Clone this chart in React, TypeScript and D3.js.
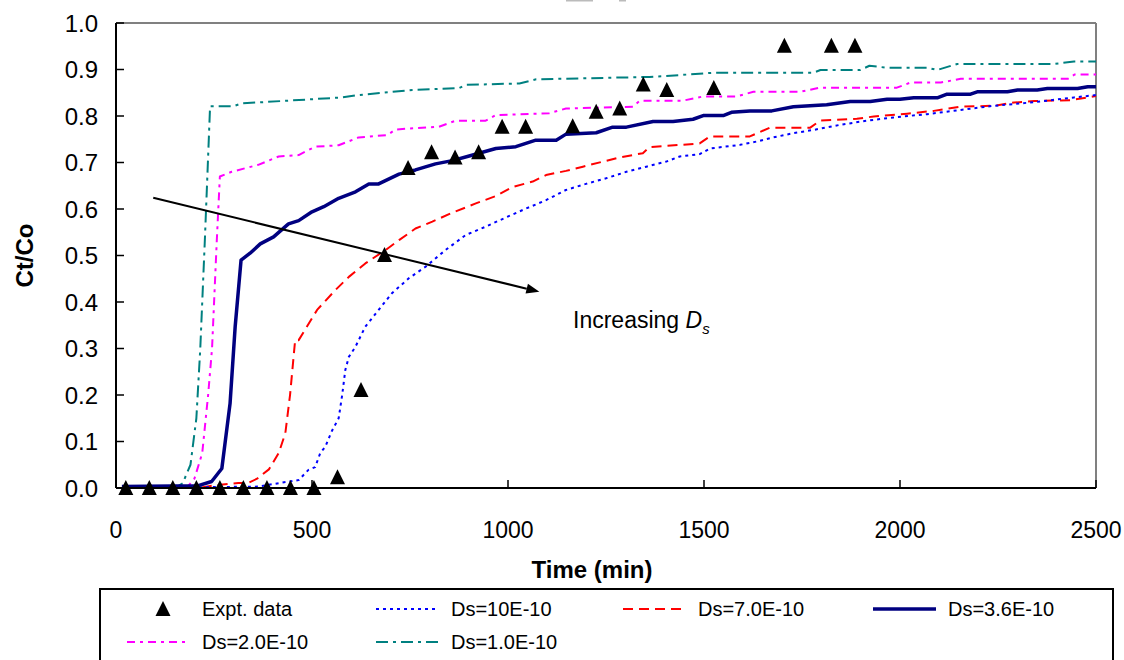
import React from "react";
import * as d3 from "d3";

// ---- data ----
const exptTimes = [25, 85, 145, 205, 265, 325, 385, 445, 505, 565, 625, 685, 745, 805, 865, 925, 985, 1045, 1165, 1225, 1285, 1345, 1405, 1525, 1705, 1825, 1885];
const exptValues = [0, 0, 0, 0, 0, 0, 0, 0, 0, 0.023, 0.211, 0.501, 0.688, 0.722, 0.711, 0.722, 0.777, 0.777, 0.778, 0.809, 0.816, 0.868, 0.856, 0.86, 0.951, 0.951, 0.951];

const ds10: [number, number][] = [[15, 0], [363, 0.003], [419, 0.011], [466, 0.017], [491, 0.039], [508, 0.045], [521, 0.075], [534, 0.089], [551, 0.123], [568, 0.15], [577, 0.2], [585, 0.254], [594, 0.282], [611, 0.304], [636, 0.347], [670, 0.383], [704, 0.419], [747, 0.451], [790, 0.476], [841, 0.512], [892, 0.544], [943, 0.562], [995, 0.582], [1046, 0.601], [1097, 0.619], [1148, 0.641], [1199, 0.654], [1250, 0.666], [1302, 0.68], [1353, 0.691], [1404, 0.702], [1438, 0.713], [1489, 0.718], [1515, 0.73], [1592, 0.738], [1634, 0.745], [1677, 0.754], [1728, 0.763], [1779, 0.77], [1847, 0.781], [1916, 0.79], [1984, 0.797], [2069, 0.804], [2155, 0.813], [2240, 0.822], [2308, 0.827], [2376, 0.833], [2444, 0.84], [2500, 0.845]];

const ds7: [number, number][] = [[15, 0], [210, 0], [244, 0.005], [312, 0.011], [338, 0.011], [360, 0.02], [390, 0.04], [415, 0.075], [432, 0.118], [444, 0.2], [457, 0.318], [466, 0.318], [513, 0.383], [560, 0.426], [594, 0.454], [636, 0.483], [688, 0.512], [722, 0.533], [764, 0.558], [807, 0.573], [858, 0.592], [918, 0.612], [969, 0.628], [1011, 0.647], [1063, 0.659], [1097, 0.673], [1148, 0.682], [1191, 0.691], [1285, 0.711], [1344, 0.72], [1361, 0.733], [1489, 0.741], [1515, 0.756], [1617, 0.756], [1668, 0.775], [1771, 0.775], [1796, 0.79], [1890, 0.794], [1933, 0.799], [2018, 0.805], [2086, 0.811], [2155, 0.82], [2240, 0.822], [2291, 0.829], [2342, 0.832], [2436, 0.834], [2500, 0.843]];

const ds36: [number, number][] = [[15, 0.003], [210, 0.005], [244, 0.014], [270, 0.042], [291, 0.182], [304, 0.347], [319, 0.49], [342, 0.505], [368, 0.525], [402, 0.54], [440, 0.568], [466, 0.575], [500, 0.594], [530, 0.605], [568, 0.623], [611, 0.637], [645, 0.654], [670, 0.654], [722, 0.675], [764, 0.684], [815, 0.697], [858, 0.704], [901, 0.714], [969, 0.73], [1020, 0.734], [1071, 0.748], [1123, 0.748], [1148, 0.761], [1225, 0.764], [1267, 0.776], [1302, 0.776], [1370, 0.788], [1421, 0.788], [1472, 0.793], [1498, 0.801], [1549, 0.801], [1570, 0.808], [1617, 0.811], [1673, 0.811], [1728, 0.82], [1813, 0.824], [1873, 0.831], [1924, 0.831], [1967, 0.836], [2000, 0.836], [2035, 0.839], [2095, 0.839], [2120, 0.847], [2180, 0.847], [2197, 0.852], [2274, 0.852], [2300, 0.856], [2350, 0.856], [2376, 0.859], [2453, 0.859], [2479, 0.863], [2500, 0.863]];

const ds2: [number, number][] = [[15, 0], [180, 0], [200, 0.02], [220, 0.075], [235, 0.2], [245, 0.3], [257, 0.53], [265, 0.67], [295, 0.68], [363, 0.695], [415, 0.713], [466, 0.716], [508, 0.734], [568, 0.737], [619, 0.754], [692, 0.759], [713, 0.771], [824, 0.777], [867, 0.79], [943, 0.79], [969, 0.802], [1105, 0.806], [1148, 0.816], [1319, 0.82], [1336, 0.833], [1446, 0.833], [1498, 0.842], [1583, 0.842], [1626, 0.852], [1745, 0.852], [1796, 0.861], [1992, 0.861], [2027, 0.872], [2104, 0.872], [2155, 0.88], [2428, 0.88], [2445, 0.889], [2500, 0.889]];

const ds1: [number, number][] = [[15, 0], [150, 0], [170, 0.01], [190, 0.05], [205, 0.15], [215, 0.3], [227, 0.54], [240, 0.821], [300, 0.821], [320, 0.827], [577, 0.84], [619, 0.845], [756, 0.856], [875, 0.86], [893, 0.867], [1029, 0.87], [1072, 0.879], [1361, 0.884], [1438, 0.888], [1523, 0.893], [1779, 0.893], [1797, 0.899], [1899, 0.899], [1922, 0.908], [1965, 0.904], [2069, 0.904], [2095, 0.899], [2146, 0.912], [2393, 0.912], [2444, 0.917], [2500, 0.917]];

const yTicks = [0, 0.1, 0.2, 0.3, 0.4, 0.5, 0.6, 0.7, 0.8, 0.9, 1.0];
const xTicks = [0, 500, 1000, 1500, 2000, 2500];

const arrowFrom: [number, number] = [95, 0.624];
const arrowTo: [number, number] = [1080, 0.422];

const FONT = "'Liberation Sans', Arial, sans-serif";

const series = [
  { key: "ds1", label: "Ds=1.0E-10", data: ds1, color: "#008080", width: 2, dash: "12,5,3,5", col: 1, row: 1 },
  { key: "ds2", label: "Ds=2.0E-10", data: ds2, color: "#FF00FF", width: 2, dash: "8,5,3,5", col: 0, row: 1 },
  { key: "ds7", label: "Ds=7.0E-10", data: ds7, color: "#FF0000", width: 2, dash: "10,6", col: 2, row: 0 },
  { key: "ds10", label: "Ds=10E-10", data: ds10, color: "#0000FF", width: 2, dash: "3,4", col: 1, row: 0 },
  { key: "ds36", label: "Ds=3.6E-10", data: ds36, color: "#000080", width: 3.5, dash: "", col: 3, row: 0 },
];

export default function App() {
  const W = 1124, H = 660;
  const x = d3.scaleLinear().domain([0, 2500]).range([116, 1096]);
  const y = d3.scaleLinear().domain([0, 1]).range([488, 23]);
  const line = d3.line<[number, number]>().x(d => x(d[0])).y(d => y(d[1]));

  const tri = (cx: number, cy: number) => `M${cx},${cy - 8}L${cx + 7.5},${cy + 7}L${cx - 7.5},${cy + 7}Z`;

  const legendColX = [202, 451, 698, 948];
  const legendRowY = [609, 642];

  const ax0 = x(arrowFrom[0]), ay0 = y(arrowFrom[1]);
  const ax1 = x(arrowTo[0]), ay1 = y(arrowTo[1]);
  const ang = Math.atan2(ay1 - ay0, ax1 - ax0);
  const hl = 13, hw = 5;
  const bx = ax1 - hl * Math.cos(ang), by = ay1 - hl * Math.sin(ang);
  const head = `M${ax1},${ay1}L${bx - hw * Math.sin(ang)},${by + hw * Math.cos(ang)}L${bx + hw * Math.sin(ang)},${by - hw * Math.cos(ang)}Z`;

  return (
    <svg width={W} height={H} style={{ position: "absolute", left: 0, top: 0, background: "#fff" }} fontFamily={FONT}>
      <rect x={0} y={0} width={W} height={H} fill="#fff" />
      <rect x={566} y={0} width={27} height={1.5} fill="#bbb" />
      <rect x={619} y={0} width={7} height={1.5} fill="#bbb" />

      {/* frame */}
      <line x1={x(0)} x2={x(2500)} y1={y(1)} y2={y(1)} stroke="#808080" strokeWidth={2} />
      <line x1={x(2500)} x2={x(2500)} y1={y(1)} y2={y(0)} stroke="#808080" strokeWidth={2} />

      {/* y ticks */}
      {yTicks.map(t => (
        <g key={"y" + t}>
          <line x1={x(0)} x2={x(0) + 8} y1={y(t)} y2={y(t)} stroke="#000" strokeWidth={1.5} />
          <text x={98} y={y(t)} textAnchor="end" dominantBaseline="central" fontSize={24}>{t.toFixed(1)}</text>
        </g>
      ))}
      {/* x ticks */}
      {xTicks.map(t => (
        <g key={"x" + t}>
          <line x1={x(t)} x2={x(t)} y1={y(0)} y2={y(0) - 8} stroke="#000" strokeWidth={1.5} />
          <text x={x(t)} y={530} textAnchor="middle" dominantBaseline="central" fontSize={23}>{t}</text>
        </g>
      ))}

      {/* series */}
      {series.map(s => (
        <path key={s.key} d={line(s.data) || ""} fill="none" stroke={s.color} strokeWidth={s.width}
          strokeDasharray={s.dash || undefined} strokeLinejoin="round" />
      ))}

      {/* axes */}
      <line x1={x(0)} x2={x(0)} y1={y(1)} y2={y(0)} stroke="#000" strokeWidth={2} />
      <line x1={x(0)} x2={x(2500)} y1={y(0)} y2={y(0)} stroke="#000" strokeWidth={2} />

      {/* expt data */}
      {exptTimes.map((t, i) => (
        <path key={"e" + i} d={tri(x(t), y(exptValues[i]))} fill="#000" />
      ))}

      {/* arrow annotation */}
      <line x1={ax0} y1={ay0} x2={bx} y2={by} stroke="#000" strokeWidth={2} />
      <path d={head} fill="#000" />
      <text x={573} y={328} fontSize={23}>
        Increasing <tspan fontStyle="italic">D</tspan><tspan fontStyle="italic" fontSize={15} dy={6}>s</tspan>
      </text>

      {/* axis titles */}
      <text x={592} y={569} textAnchor="middle" dominantBaseline="central" fontSize={24} fontWeight="bold">Time (min)</text>
      <text transform={`translate(24,${y(0.5)}) rotate(-90)`} textAnchor="middle" dominantBaseline="central" fontSize={24} fontWeight="bold">Ct/Co</text>

      {/* legend */}
      <rect x={100} y={589} width={1013} height={90} fill="#fff" stroke="#000" strokeWidth={2} />
      <path d={tri(legendColX[0] - 39, legendRowY[0])} fill="#000" />
      <text x={legendColX[0]} y={legendRowY[0]} dominantBaseline="central" fontSize={20}>Expt. data</text>
      {series.map(s => (
        <g key={"l" + s.key}>
          <line x1={legendColX[s.col] - 75} x2={legendColX[s.col] - 12} y1={legendRowY[s.row]} y2={legendRowY[s.row]}
            stroke={s.color} strokeWidth={s.width} strokeDasharray={s.dash || undefined} />
          <text x={legendColX[s.col]} y={legendRowY[s.row]} dominantBaseline="central" fontSize={20}>{s.label}</text>
        </g>
      ))}
    </svg>
  );
}
